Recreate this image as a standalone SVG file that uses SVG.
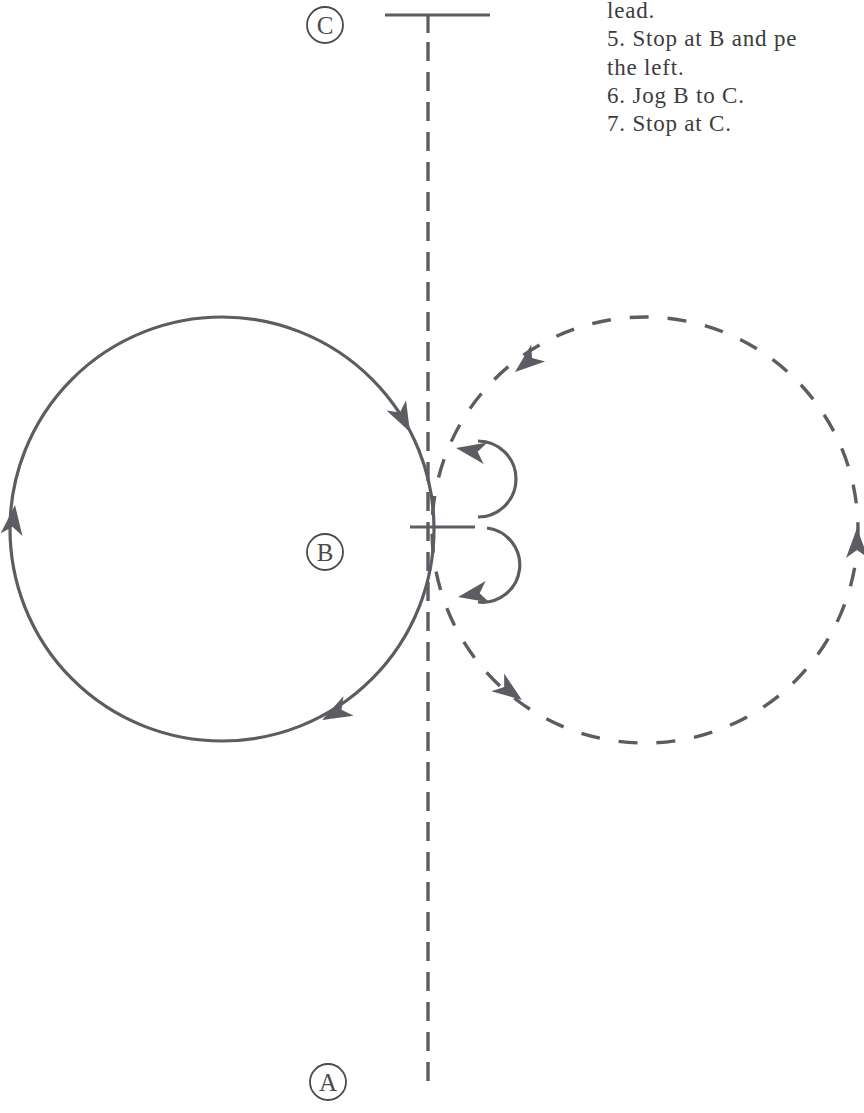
<svg xmlns="http://www.w3.org/2000/svg" width="864" height="1113" viewBox="0 0 864 1113">
<style>
.ln{fill:none;stroke:#5c5c62;stroke-width:3.2}
.dl{fill:none;stroke:#5c5c62;stroke-width:3.4;stroke-dasharray:19 11}
.dc{fill:none;stroke:#5c5c62;stroke-width:3.4;stroke-dasharray:19 19}
.lbl{fill:none;stroke:#4a4a4a;stroke-width:1.8}
.lt{font-family:"Liberation Serif",serif;font-size:25px;fill:#4a4a4a;text-anchor:middle}
.tx{font-family:"Liberation Serif",serif;font-size:23px;letter-spacing:0.8px;fill:#3c3c3c}
.ah{fill:#5c5c62}
</style>
<defs>
<path id="ah" d="M0,0 L-30,-11 L-22,0 L-30,11 Z"/>
</defs>
<rect width="864" height="1113" fill="#ffffff"/>
<g id="text">
<text class="tx" x="607" y="18">lead.</text>
<text class="tx" x="607" y="46">5. Stop at B and pe</text>
<text class="tx" x="607" y="75">the left.</text>
<text class="tx" x="607" y="103">6. Jog B to C.</text>
<text class="tx" x="607" y="131">7. Stop at C.</text>
</g>
<g id="node-C">
<circle class="lbl" cx="325" cy="25" r="18"/>
<text class="lt" x="325" y="34">C</text>
</g>
<g id="node-B">
<circle class="lbl" cx="325" cy="552" r="18"/>
<text class="lt" x="325" y="561">B</text>
</g>
<g id="node-A">
<circle class="lbl" cx="328" cy="1082" r="18"/>
<text class="lt" x="328" y="1091">A</text>
</g>
<g id="connectors">
<line class="ln" x1="385" y1="15" x2="490" y2="15"/>
<line class="ln" x1="428" y1="15" x2="428" y2="33"/>
<line class="dl" x1="428" y1="42" x2="428" y2="1092"/>
<line class="ln" x1="410" y1="527" x2="475" y2="527"/>
<circle class="ln" cx="222" cy="529" r="212"/>
<circle class="dc" cx="645" cy="530" r="213"/>
<path class="ln" d="M478,517 A38,38 0 0 0 478,441"/>
<path class="ln" d="M487,528 A37,37 0 0 1 478,602"/>
<g class="ah">
<use href="#ah" transform="translate(410,432) rotate(62.7)"/>
<use href="#ah" transform="translate(15,505) rotate(-83.4)"/>
<use href="#ah" transform="translate(322,720) rotate(152.4)"/>
<use href="#ah" transform="translate(515,372) rotate(140.6)"/>
<use href="#ah" transform="translate(857,528) rotate(-90)"/>
<use href="#ah" transform="translate(522,700) rotate(35.9)"/>
<use href="#ah" transform="translate(456,448) rotate(190)"/>
<use href="#ah" transform="translate(458,597) rotate(170)"/>
</g>
</g>
</svg>
